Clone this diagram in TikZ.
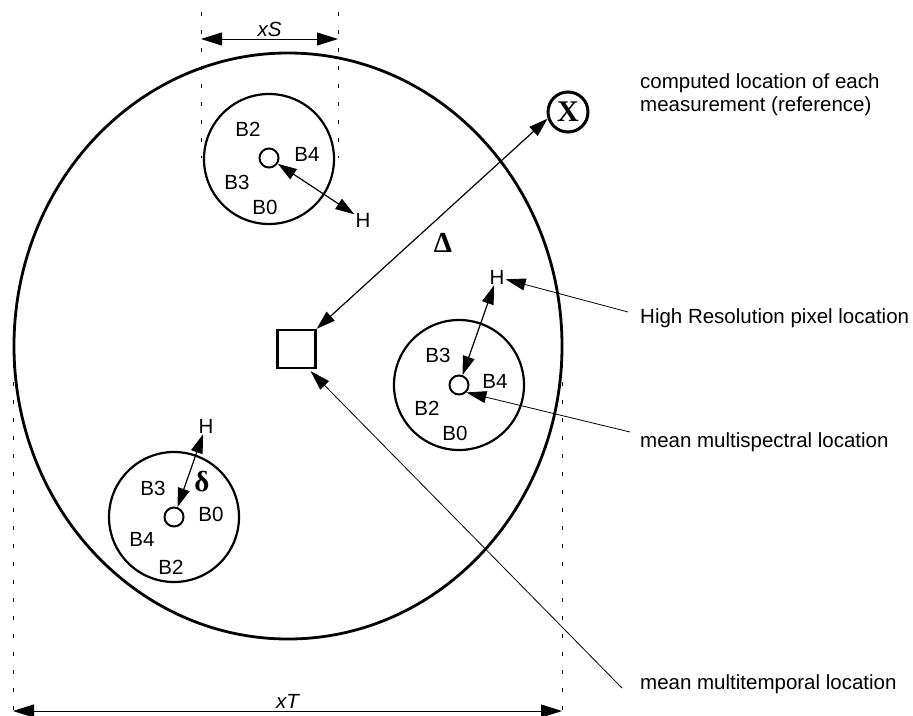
\documentclass[tikz,border=0pt]{standalone}
\usepackage{fontspec}
\setmainfont{Liberation Sans}
\newfontfamily\markserif{Liberation Serif}
\usetikzlibrary{arrows.meta,positioning,shapes.geometric}
\definecolor{ink}{HTML}{000000}
\newcommand{\labelsize}{\fontsize{20.5}{23}\selectfont}
\tikzset{
  scene/.style={draw=ink, ellipse, line width=2.8pt, minimum width=548pt, minimum height=586pt, inner sep=0pt},
  cluster/.style={draw=ink, circle, line width=2.2pt, minimum size=130pt, inner sep=0pt},
  meanpt/.style={draw=ink, circle, line width=2pt, minimum size=19pt, inner sep=0pt},
  refmark/.style={draw=ink, circle, line width=3pt, minimum size=40pt, inner sep=0pt, font=\markserif\bfseries\fontsize{30}{30}\selectfont},
  tempbox/.style={draw=ink, rectangle, line width=2.2pt, minimum size=38pt, inner sep=0pt},
  band/.style={font=\labelsize, inner sep=1pt},
  dimlabel/.style={font=\labelsize\itshape, inner sep=1pt},
  note/.style={font=\labelsize, align=left, anchor=west, inner sep=0pt},
  sym/.style={font=\markserif\bfseries\fontsize{29}{29}\selectfont, inner sep=0pt},
  guide/.style={draw=ink, line width=0.6pt, dash pattern=on 4pt off 14pt},
  dimline/.style={{Triangle[length=21pt,width=13pt]}-{Triangle[length=21pt,width=13pt]}, line width=1pt, draw=ink},
  offset/.style={{Triangle[length=19pt,width=12pt]}-{Triangle[length=19pt,width=12pt]}, line width=1.2pt, draw=ink},
  pointer/.style={-{Triangle[length=20pt,width=12pt]}, line width=0.8pt, draw=ink}
}

\begin{document}
\begin{tikzpicture}[x=1pt, y=-1pt]
  \useasboundingbox (0,0) rectangle (913,715);

  % whole scene and the temporal mean
  \node[scene] (scene) at (288,346) {};
  \node[tempbox] (sq) at (296.5,349) {};
  \node[refmark] (xmark) at (568,112) {X};

  % cluster top
  \node[cluster] (c1) at (269,159) {};
  \node[meanpt] (d1) at (269,158) {};
  \node[band] at (248,129) {B2};
  \node[band] at (307,154) {B4};
  \node[band] at (237,182) {B3};
  \node[band] at (265,207) {B0};
  \node[band] (h1) at (363,220) {H};

  % cluster right
  \node[cluster] (c2) at (459,385) {};
  \node[meanpt] (d2) at (459,385) {};
  \node[band] at (438,355) {B3};
  \node[band] at (495,381) {B4};
  \node[band] at (427,408) {B2};
  \node[band] at (455,433) {B0};
  \node[band] (h2) at (497,277) {H};

  % cluster bottom left
  \node[cluster] (c3) at (174,517) {};
  \node[meanpt] (d3) at (174,517) {};
  \node[band] at (153,488) {B3};
  \node[band] at (211,514) {B0};
  \node[band] at (142,539) {B4};
  \node[band] at (171,567) {B2};
  \node[band] (h3) at (206,426) {H};

  \node[sym] (delta) at (443,243) {Δ};
  \node[sym] (smalldelta) at (202,482) {δ};

  % notes
  \node[note] (refnote) at (640,95) {computed location of each\\measurement (reference)};
  \node[note] (hrnote) at (640,318) {High Resolution pixel location};
  \node[note] (msnote) at (640,442) {mean multispectral location};
  \node[note] (mtnote) at (640,684) {mean multitemporal location};

  % dimension guides
  \coordinate (sl) at (201,12);
  \coordinate (slb) at (201,158);
  \coordinate (sr) at (338,12);
  \coordinate (srb) at (338,158);
  \coordinate (tl) at (13,346);
  \coordinate (tlb) at (13,715);
  \coordinate (tr) at (562,346);
  \coordinate (trb) at (562,715);
  \draw[guide] (sl) -- (slb);
  \draw[guide] (sr) -- (srb);
  \draw[guide] (tl) -- (tlb);
  \draw[guide] (tr) -- (trb);
  \draw[dimline] (201,39) -- node[dimlabel, above=1pt] {xS} (338,39);
  \draw[dimline] (13,711) -- node[dimlabel, above=1pt] (xt) {xT} (562,711);

  % offsets
  \draw[offset] (xmark.198) -- (sq.north east);
  \draw[offset] (d1) -- (h1);
  \draw[offset] (d2) -- (h2);
  \draw[offset] (d3) -- (h3);

  % pointers from the notes
  \draw[pointer] ([shift={(-12pt,6pt)}]hrnote.west) -- (h2);
  \draw[pointer] ([shift={(-10pt,10pt)}]msnote.west) -- (d2.-45);
  \draw[pointer] ([shift={(-18pt,-4pt)}]mtnote.west) -- ([shift={(-6pt,-2pt)}]sq.south east);
\end{tikzpicture}
\end{document}
